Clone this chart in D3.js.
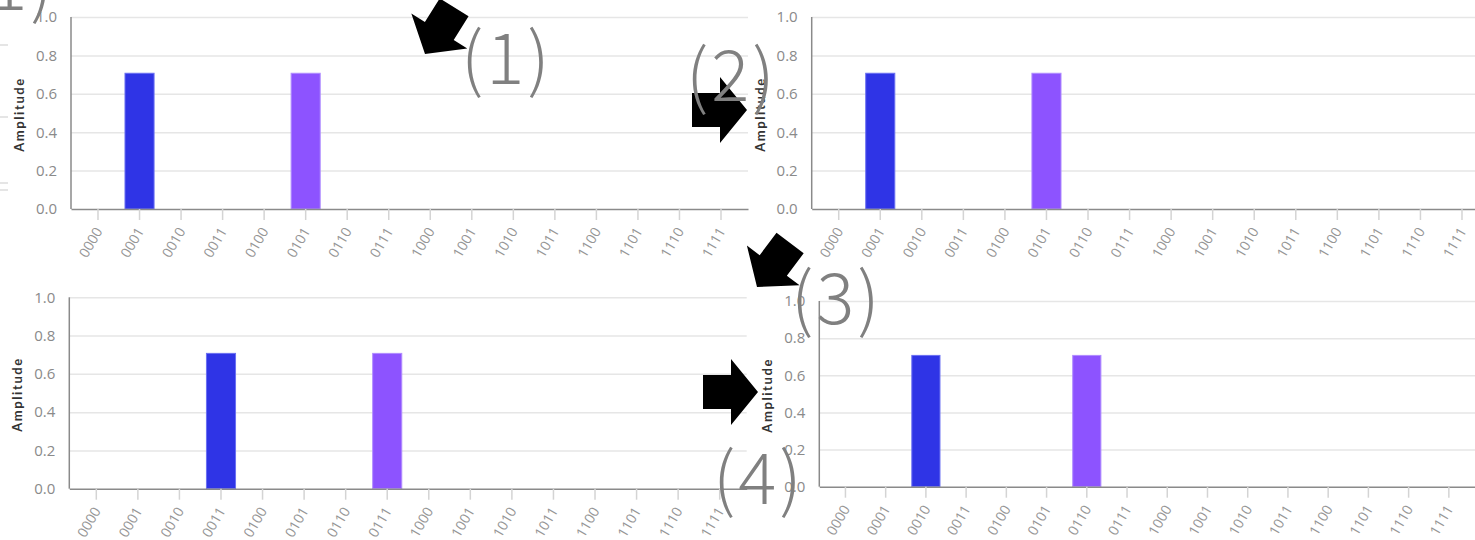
<!DOCTYPE html>
<html>
<head>
<meta charset="utf-8">
<script src="https://cdn.jsdelivr.net/npm/d3@7"></script>
<style>
  html, body { margin: 0; padding: 0; background: #ffffff; }
  svg { display: block; }
</style>
</head>
<body>
<svg id="fig" width="1475" height="540"></svg>
<script>
// Basis states of a 4-qubit register
const states = ["0000","0001","0010","0011","0100","0101","0110","0111",
                "1000","1001","1010","1011","1100","1101","1110","1111"];
const yTicks = [0, 0.2, 0.4, 0.6, 0.8, 1.0];

// Amplitude magnitudes after each step
const amp1 = [0, 0.707, 0, 0, 0, 0.707, 0, 0, 0, 0, 0, 0, 0, 0, 0, 0];
const amp2 = [0, 0.707, 0, 0, 0, 0.707, 0, 0, 0, 0, 0, 0, 0, 0, 0, 0];
const amp3 = [0, 0, 0, 0.707, 0, 0, 0, 0.707, 0, 0, 0, 0, 0, 0, 0, 0];
const amp4 = [0, 0, 0.707, 0, 0, 0, 0.707, 0, 0, 0, 0, 0, 0, 0, 0, 0];

// Phase (degrees) of each amplitude
const phase1 = [0, 0, 0, 0, 0, 90, 0, 0, 0, 0, 0, 0, 0, 0, 0, 0];
const phase2 = [0, 0, 0, 0, 0, 90, 0, 0, 0, 0, 0, 0, 0, 0, 0, 0];
const phase3 = [0, 0, 0, 0, 0, 0, 0, 90, 0, 0, 0, 0, 0, 0, 0, 0];
const phase4 = [0, 0, 0, 0, 0, 0, 90, 0, 0, 0, 0, 0, 0, 0, 0, 0];

const stepLabels = ["(1)", "(2)", "(3)", "(4)"];

const phaseColor = d3.scaleOrdinal().domain([0, 90]).range(["#2f34e6", "#8d53ff"]);
const phaseEdge  = d3.scaleOrdinal().domain([0, 90]).range(["#6a70f2", "#b08cff"]);

const svg = d3.select("#fig");

// Panel frames
const panels = [
  { x0: 71,    x1: 748,   top: 17,    bottom: 209,   amp: amp1, phase: phase1 },
  { x0: 811.7, x1: 1489,  top: 17,    bottom: 209,   amp: amp2, phase: phase2 },
  { x0: 69.3,  x1: 746.7, top: 297.3, bottom: 488.7, amp: amp3, phase: phase3 },
  { x0: 819.3, x1: 1475,  top: 301,   bottom: 486.7, amp: amp4, phase: phase4 }
];

// faint edges of a neighbouring figure at the left border
svg.append("g").selectAll("line").data([45, 117, 183, 190]).join("line")
  .attr("x1", 0).attr("x2", 8).attr("y1", d => d).attr("y2", d => d)
  .attr("stroke", "#dcdcdc").attr("stroke-width", 1.5);

panels.forEach(p => {
  const g = svg.append("g");
  const x = d3.scaleBand().domain(states).range([p.x0, p.x1])
    .paddingInner(0.3).paddingOuter(0.3);
  const y = d3.scaleLinear().domain([0, 1]).range([p.bottom, p.top]);

  // y axis with gridlines
  const ya = g.append("g").attr("transform", `translate(${p.x0},0)`)
    .call(d3.axisLeft(y).tickValues(yTicks).tickFormat(d3.format(".1f"))
      .tickSizeInner(-(p.x1 - p.x0)).tickSizeOuter(0).tickPadding(14));
  ya.select(".domain").remove();
  ya.selectAll(".tick line")
    .attr("stroke", d => d === 0 ? "none" : "#e6e6e6").attr("stroke-width", 1.5);
  ya.selectAll(".tick text")
    .attr("fill", "#8a8a8a").style("font-family", "'Open Sans', sans-serif")
    .style("font-size", "15px");

  // bars
  g.append("g").selectAll("rect")
    .data(states.map((s, i) => ({ s, a: p.amp[i], ph: p.phase[i] })).filter(d => d.a > 0))
    .join("rect")
    .attr("x", d => x(d.s)).attr("width", x.bandwidth())
    .attr("y", d => y(d.a)).attr("height", d => y(0) - y(d.a))
    .attr("fill", d => phaseColor(d.ph))
    .attr("stroke", d => phaseEdge(d.ph)).attr("stroke-width", 1);

  // x axis
  const xa = g.append("g").attr("transform", `translate(0,${p.bottom})`)
    .call(d3.axisBottom(x).tickSizeInner(11).tickSizeOuter(0));
  xa.select(".domain").attr("stroke", "#8a8a8a").attr("stroke-width", 1.5);
  xa.selectAll(".tick line").attr("stroke", "#d4d4d4").attr("stroke-width", 1.5);
  xa.selectAll(".tick text")
    .attr("x", 0).attr("y", 0).attr("dy", 0)
    .attr("text-anchor", "end")
    .attr("transform", "translate(5,22) rotate(-60)")
    .attr("fill", "#969696").style("font-family", "'Open Sans', sans-serif")
    .style("font-size", "14px");

  // left axis line
  g.append("line")
    .attr("x1", p.x0).attr("x2", p.x0).attr("y1", y(1)).attr("y2", y(0))
    .attr("stroke", "#8a8a8a").attr("stroke-width", 1.5);

  // axis title
  g.append("text")
    .attr("transform", `translate(${p.x0 - 52},${(p.top + p.bottom) / 2 + 1.5}) rotate(-90)`)
    .attr("text-anchor", "middle").attr("dominant-baseline", "central")
    .style("font-family", "Lato, sans-serif").style("font-weight", "bold")
    .style("font-size", "13px").style("letter-spacing", "1.6px")
    .attr("fill", "#333333").text("Amplitude");
});

// block arrows linking the steps
const arrowShape = [[0,0],[-27,-33],[-27,-17],[-55,-17],[-55,17],[-27,17],[-27,33]];
const arrows = [
  { x: 425, y: 54,  rot: 122 },
  { x: 747, y: 110, rot: 0 },
  { x: 757, y: 287, rot: 127 },
  { x: 758, y: 392, rot: 0 }
];
svg.append("g").selectAll("path").data(arrows).join("path")
  .attr("d", d3.line()(arrowShape) + "Z")
  .attr("transform", d => `translate(${d.x},${d.y}) rotate(${d.rot})`)
  .attr("fill", "#000000");

// step numbers
const labelPos = [
  { x: 461, y: 84 },
  { x: 686, y: 101 },
  { x: 791, y: 324 },
  { x: 713, y: 504 }
];
const labelFont = "'Noto Sans CJK JP', 'Noto Sans', sans-serif";
svg.append("g").selectAll("text").data(stepLabels).join("text")
  .attr("x", (d, i) => labelPos[i].x).attr("y", (d, i) => labelPos[i].y)
  .style("font-family", labelFont).style("font-weight", 300)
  .style("font-size", "71px").style("letter-spacing", "3px")
  .attr("fill", "#808080").text(d => d);

// clipped label in the top-left corner
svg.append("text").attr("x", -36).attr("y", 10)
  .style("font-family", labelFont).style("font-weight", 300)
  .style("font-size", "71px").style("letter-spacing", "3px")
  .attr("fill", "#808080").text(stepLabels[0]);
</script>
</body>
</html>
